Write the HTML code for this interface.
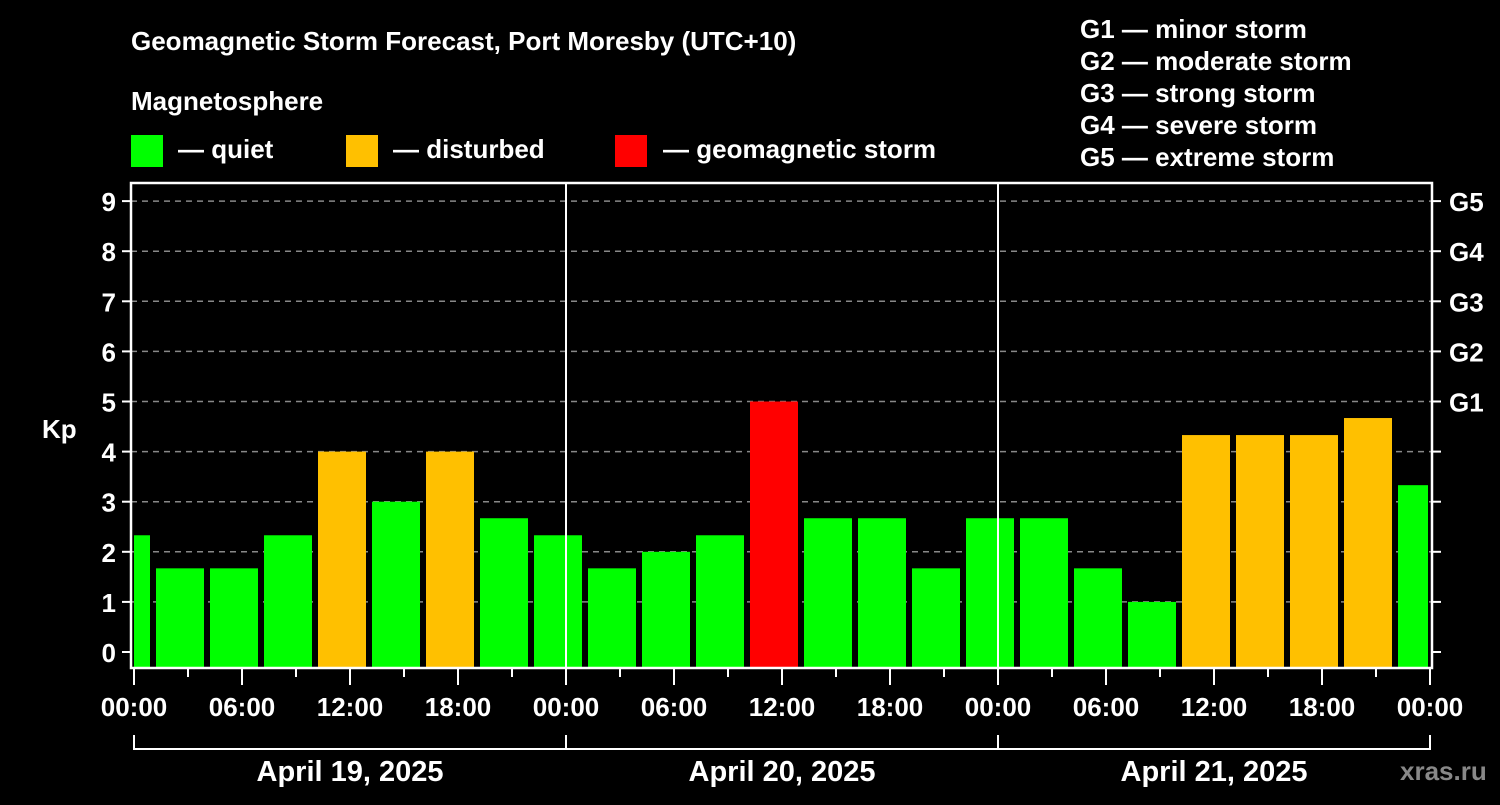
<!DOCTYPE html>
<html><head><meta charset="utf-8"><style>
body{margin:0;background:#000;width:1500px;height:800px;overflow:hidden}
svg text{font-family:"Liberation Sans",sans-serif;font-weight:bold;fill:#fff}
</style></head><body>
<svg id="c" width="1500" height="800">
<text x="131" y="50" font-size="26">Geomagnetic Storm Forecast, Port Moresby (UTC+10)</text>
<text x="131" y="110" font-size="26">Magnetosphere</text>
<rect x="131" y="135" width="32" height="32" fill="#00ff00"/>
<text x="178" y="158" font-size="26">— quiet</text>
<rect x="346" y="135" width="32" height="32" fill="#ffc000"/>
<text x="393" y="158" font-size="26">— disturbed</text>
<rect x="615" y="135" width="32" height="32" fill="#ff0000"/>
<text x="663" y="158" font-size="26">— geomagnetic storm</text>
<g font-size="26">
<text x="1080" y="38">G1 — minor storm</text>
<text x="1080" y="70">G2 — moderate storm</text>
<text x="1080" y="102">G3 — strong storm</text>
<text x="1080" y="134">G4 — severe storm</text>
<text x="1080" y="166">G5 — extreme storm</text>
</g>
<text x="42" y="438" font-size="26">Kp</text>
<text x="1400" y="780" font-size="26" fill="#888" style="fill:#888">xras.ru</text>
<g id="grid"></g><g id="bars"></g><g id="axes"></g>
</svg>
<script>
const values=[2.33,1.67,1.67,2.33,4,3,4,2.67,2.33,1.67,2,2.33,5,2.67,2.67,1.67,2.67,2.67,1.67,1,4.33,4.33,4.33,4.67,3.33];
const startHour=-2; // first bar start, hours from Apr 19 00:00
const yTicks=[0,1,2,3,4,5,6,7,8,9];
const gLabels=["G1","G2","G3","G4","G5"];
const xLabels=["00:00","06:00","12:00","18:00"];
const days=["April 19, 2025","April 20, 2025","April 21, 2025"];
const NS="http://www.w3.org/2000/svg";
const L=131,R=1432,T=183,B=668,X0=134,PXH=18;
const y=v=>652-v*50.1;
const x=h=>X0+h*PXH;
function mk(tag,attrs,parent,txt){const e=document.createElementNS(NS,tag);for(const k in attrs)e.setAttribute(k,attrs[k]);if(txt!==undefined)e.textContent=txt;document.getElementById(parent).appendChild(e);return e;}
yTicks.forEach(v=>{
 if(v>0){const g=mk('line',{x1:L,x2:R,y1:y(v),y2:y(v),stroke:'#888','stroke-width':1.5,'stroke-dasharray':'6,5'},'grid');
 
 }
 const t=mk('line',{x1:122,x2:L,y1:y(v),y2:y(v),stroke:'#fff','stroke-width':2},'axes');
 
 
 const t2=mk('line',{x1:R,x2:1441,y1:y(v),y2:y(v),stroke:'#fff','stroke-width':2},'axes');
 
 
 const l=mk('text',{x:116,y:y(v)+10,'font-size':26,'text-anchor':'end'},'axes',String(v));
 
 
});
gLabels.forEach((g,i)=>{
 const l=mk('text',{x:1449,y:y(5+i)+10,'font-size':26},'axes',g);
 
 
});
values.forEach((v,i)=>{
 const h0=startHour+i*3;
 let x1=x(h0)+4,x2=x(h0+3)-2;
 x1=Math.max(x1,X0);x2=Math.min(x2,1428);
 const col=v>=5?'#ff0000':(v>=4?'#ffc000':'#00ff00');
 const b=mk('rect',{x:x1,y:y(v),width:x2-x1,height:B-y(v),fill:col},'bars');
 
 
});
[1,2].forEach(d=>{
 const s=mk('line',{x1:x(d*24),x2:x(d*24),y1:T,y2:B,stroke:'#fff','stroke-width':2},'axes');
 
 
});
const fr=mk('rect',{x:L,y:T,width:R-L,height:B-T,fill:'none',stroke:'#fff','stroke-width':2.5},'axes');


for(let h=0;h<=72;h+=3){
 const major=h%6===0;
 const t=mk('line',{x1:x(h),x2:x(h),y1:B,y2:B+(major?17:9),stroke:'#fff','stroke-width':2},'axes');
 
 
 if(major){
  const l=mk('text',{x:x(h),y:716,'font-size':26,'text-anchor':'middle'},'axes',xLabels[(h%24)/6]);
  
  
 }
}
const br=mk('path',{d:`M${x(0)} 735V749H${x(72)}V735M${x(24)} 735V749M${x(48)} 735V749`,stroke:'#fff','stroke-width':2,fill:'none'},'axes');


days.forEach((d,i)=>{
 const l=mk('text',{x:x(i*24+12),y:781,'font-size':29,'text-anchor':'middle'},'axes',d);
 
 
});
</script>
</body></html>
